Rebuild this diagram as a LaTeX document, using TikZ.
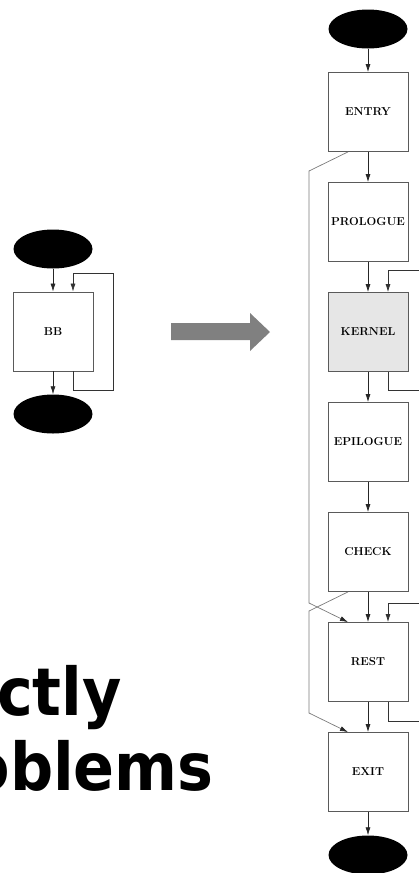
\documentclass[tikz,border=0pt]{standalone}
\usepackage{fontspec}
\newfontfamily\headfont{DejaVu Sans}
\usetikzlibrary{shapes.geometric,arrows.meta,calc}
\definecolor{boxgray}{HTML}{5A5A5A}
\definecolor{kernfill}{HTML}{E6E6E6}
\definecolor{bigarrow}{HTML}{808080}
\definecolor{bypassgray}{HTML}{7A7A7A}
\begin{document}
\begin{tikzpicture}[x=1pt,y=-1pt,
  blk/.style={draw=boxgray,line width=0.8pt,minimum width=80pt,minimum height=79pt,inner sep=0pt,font=\fontsize{11.5}{12}\selectfont\bfseries},
  term/.style={ellipse,fill=black,minimum width=79pt,minimum height=39pt,inner sep=0pt},
  flow/.style={draw=black!85,line width=0.7pt,-{Latex[length=8pt,width=5pt]}},
  bypass/.style={draw=bypassgray,line width=0.7pt,-{Latex[length=8pt,width=5pt,color=black!85]}},
  loopline/.style={draw=black!80,line width=0.7pt,-{Latex[length=8pt,width=5pt]}},
  bigtext/.style={anchor=base east,inner sep=0pt,font=\headfont\bfseries\fontsize{66}{75}\selectfont}
]
\clip (0,0) rectangle (419,873);
% ---- left diagram ----
\node[term] (ltop) at (53,249) {};
\node[blk] (bb) at (53,331.5) {BB};
\node[term] (lbot) at (53,414) {};
\draw[flow] (ltop.south) -- (bb.north);
\draw[flow] (bb.south) -- (lbot.north);
\coordinate (lr1) at (113,390);
\coordinate (lr2) at (113,273);
\draw[loopline] ([xshift=20pt]bb.south) |- (lr1) -- (lr2) -| ([xshift=20pt]bb.north);
% ---- big arrow ----
\fill[bigarrow] (171,323) -- (250,323) -- (250,313) -- (270,332) -- (250,351) -- (250,340) -- (171,340) -- cycle;
% ---- big text ----
\node[bigtext] (t1) at (122,715) {\scalebox{0.915}[1]{ctly}};
\node[bigtext] (t2) at (214,790) {\scalebox{0.915}[1]{oblems}};
% ---- right diagram ----
\node[term] (rtop) at (368,29) {};
\node[blk] (entry) at (368,112) {ENTRY};
\node[blk] (prologue) at (368,222) {PROLOGUE};
\node[blk,fill=kernfill] (kernel) at (368,332) {KERNEL};
\node[blk] (epilogue) at (368,442) {EPILOGUE};
\node[blk] (check) at (368,552) {CHECK};
\node[blk] (rest) at (368,662) {REST};
\node[blk] (exit) at (368,772) {EXIT};
\node[term] (rbot) at (368,855) {};
\draw[flow] (rtop.south) -- (entry.north);
\draw[flow] (entry.south) -- (prologue.north);
\draw[flow] (prologue.south) -- (kernel.north);
\draw[flow] (kernel.south) -- (epilogue.north);
\draw[flow] (epilogue.south) -- (check.north);
\draw[flow] (check.south) -- (rest.north);
\draw[flow] (rest.south) -- (exit.north);
\draw[flow] (exit.south) -- (rbot.north);
% loops
\coordinate (kr1) at (430,390);
\coordinate (kr2) at (430,270);
\draw[loopline] ([xshift=20pt]kernel.south) |- (kr1) -- (kr2) -| ([xshift=20pt]kernel.north);
\coordinate (rr1) at (430,721);
\coordinate (rr2) at (430,603);
\draw[loopline] ([xshift=20pt]rest.south) |- (rr1) -- (rr2) -| ([xshift=20pt]rest.north);
% bypasses
\coordinate (b1) at (309,171);
\coordinate (b2) at (309,603);
\draw[bypass] ([xshift=-20pt]entry.south) -- (b1) -- (b2) -- ([xshift=-20pt]rest.north);
\coordinate (c1) at (309,611);
\coordinate (c2) at (309,713);
\draw[bypass] ([xshift=-20pt]check.south) -- (c1) -- (c2) -- ([xshift=-20pt]exit.north);
\end{tikzpicture}
\end{document}
